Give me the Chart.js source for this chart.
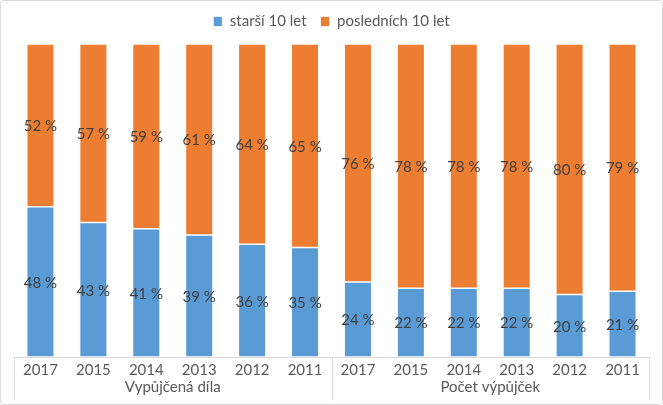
<!DOCTYPE html>
<html>
<head>
<meta charset="utf-8">
<script src="https://cdn.jsdelivr.net/npm/chart.js@4"></script>
<style>
  body { margin: 0; background: #fff; }
  #wrap { width: 663px; height: 405px; position: relative; }
</style>
</head>
<body>
<div id="wrap"><canvas id="chart" width="663" height="405"></canvas></div>
<script>
const years = ['2017', '2015', '2014', '2013', '2012', '2011',
               '2017', '2015', '2014', '2013', '2012', '2011'];
const groups = ['Vypůjčená díla', 'Počet výpůjček'];
const groupSize = 6;
const older = [48, 43, 41, 39, 36, 35, 24, 22, 22, 22, 20, 21];
const recent = [52, 57, 59, 61, 64, 65, 76, 78, 78, 78, 80, 79];

const FONT = 'Lato, "Liberation Sans", sans-serif';
const TEXT = '#595959';
const SIZE = 15;

// values written in the middle of each segment
const segmentLabels = {
  id: 'segmentLabels',
  afterDatasetsDraw(chart) {
    const { ctx } = chart;
    ctx.save();
    ctx.font = SIZE + 'px ' + FONT;
    ctx.fillStyle = '#404040';
    ctx.textAlign = 'center';
    ctx.textBaseline = 'middle';
    chart.data.datasets.forEach((ds, i) => {
      chart.getDatasetMeta(i).data.forEach((bar, j) => {
        const mid = (bar.y + bar.base) / 2;
        ctx.fillText(ds.data[j] + ' %', bar.x, mid + 1);
      });
    });
    ctx.restore();
  }
};

// a bit more room between the legend and the bars
const legendGap = {
  id: 'legendGap',
  beforeUpdate(chart) {
    const lg = chart.legend;
    if (lg && !lg._gap) {
      const fit = lg.fit;
      lg.fit = function() { fit.call(this); this.height += 5; };
      lg._gap = true;
    }
  }
};

// second row of axis labels + group separators + outer frame
const groupAxis = {
  id: 'groupAxis',
  afterDraw(chart) {
    const { ctx, chartArea: { left, right, bottom } } = chart;
    const step = (right - left) / years.length;
    ctx.save();
    ctx.strokeStyle = '#d9d9d9';
    ctx.lineWidth = 1;
    ctx.beginPath();
    ctx.moveTo(left, bottom + 0.5);
    ctx.lineTo(right, bottom + 0.5);
    for (let g = 0; g <= groups.length; g++) {
      const px = Math.round(left + g * groupSize * step) + 0.5;
      ctx.moveTo(px, bottom);
      ctx.lineTo(px, 400);
    }
    ctx.stroke();

    ctx.font = SIZE + 'px ' + FONT;
    ctx.fillStyle = TEXT;
    ctx.textAlign = 'center';
    ctx.textBaseline = 'middle';
    groups.forEach((name, g) => {
      const cx = left + (g * groupSize + groupSize / 2) * step;
      ctx.fillText(name, cx, 387);
    });

    ctx.beginPath();
    ctx.roundRect(0.5, 0.5, chart.width - 1, chart.height - 1, 3);
    ctx.stroke();
    ctx.restore();
  }
};

new Chart(document.getElementById('chart'), {
  type: 'bar',
  plugins: [legendGap, segmentLabels, groupAxis],
  data: {
    labels: years,
    datasets: [
      {
        label: 'starší 10 let',
        data: older,
        backgroundColor: '#5b9bd5',
        borderColor: '#ffffff',
        borderWidth: 0.75,
        borderSkipped: false
      },
      {
        label: 'posledních 10 let',
        data: recent,
        backgroundColor: '#ed7d31',
        borderColor: '#ffffff',
        borderWidth: 0.75,
        borderSkipped: false
      }
    ]
  },
  options: {
    responsive: false,
    animation: false,
    layout: { padding: { left: 14, right: 14, top: 0, bottom: 0 } },
    datasets: {
      bar: { categoryPercentage: 1, barPercentage: 0.52 }
    },
    scales: {
      x: {
        stacked: true,
        grid: { display: false, drawTicks: false },
        border: { display: false },
        ticks: {
          padding: 4,
          color: TEXT,
          font: { family: FONT, size: SIZE },
          maxRotation: 0,
          autoSkip: false
        },
        afterFit(scale) { scale.height = 48; }
      },
      y: {
        stacked: true,
        display: false,
        min: 0,
        max: 100
      }
    },
    plugins: {
      legend: {
        position: 'top',
        labels: {
          color: TEXT,
          font: { family: FONT, size: SIZE },
          boxWidth: 9,
          boxHeight: 10,
          padding: 14,
          useBorderRadius: false
        }
      },
      tooltip: { enabled: false }
    }
  }
});
</script>
</body>
</html>
